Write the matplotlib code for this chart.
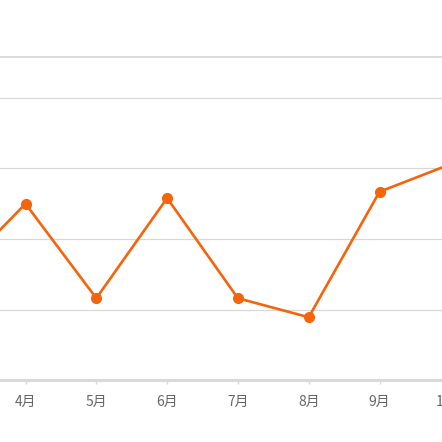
import matplotlib
matplotlib.use('Agg')
import matplotlib.pyplot as plt

plt.rcParams['font.family'] = ['Noto Sans CJK SC', 'DejaVu Sans']

months = ['3月', '4月', '5月', '6月', '7月', '8月', '9月', '10月']
values = [147, 250, 116, 258, 116, 89, 267, 306]
grid_vals = [100, 200, 300, 400]

W = H = 442.0
fig = plt.figure(figsize=(4.42, 4.42), dpi=100)
fig.patch.set_facecolor('white')

# axes is wider than the figure: the chart is cropped on both sides
left_px, right_px = -60, 470
top_px, bot_px = 57, 380
ax = fig.add_axes([left_px / W, (H - bot_px) / H,
                   (right_px - left_px) / W, (bot_px - top_px) / H])

step = 70.8
x0 = -45.3
ax.set_xlim((left_px - x0) / step, (right_px - x0) / step)
ax.set_ylim(0, (bot_px - top_px) / 70.5 * 100)

x = list(range(len(months)))
ax.plot(x, values, color='#f5640a', lw=1.9, marker='o', ms=7,
        mec='#f5640a', mfc='#f5640a', zorder=3, clip_on=False)

for g in grid_vals:
    ax.axhline(g, color='#d8d8d8', lw=0.9, zorder=1)

for s in ['left', 'right']:
    ax.spines[s].set_visible(False)
ax.spines['top'].set_color('#d6d6d6')
ax.spines['top'].set_linewidth(1.2)
ax.spines['bottom'].set_color('#d9d9d9')
ax.spines['bottom'].set_linewidth(2.2)

ax.set_yticks([])
ax.set_xticks(x)
ax.set_xticklabels(months)
ax.tick_params(axis='x', length=3, width=1, color='#d9d9d9',
               labelcolor='#666666', labelsize=10, pad=8)

fig.savefig('out.png', dpi=100)
